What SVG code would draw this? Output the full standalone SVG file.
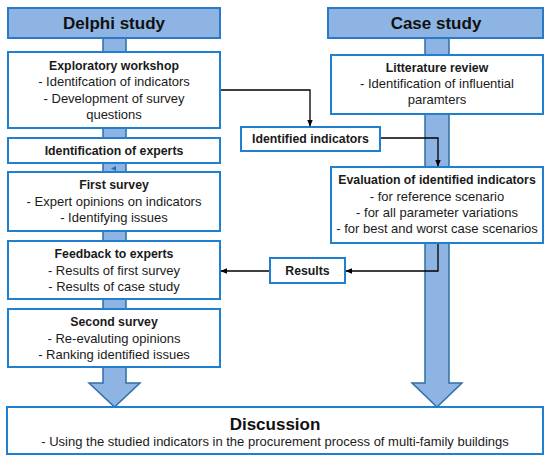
<svg xmlns="http://www.w3.org/2000/svg" width="550" height="463" viewBox="0 0 550 463">
<defs>
<style>
.box{fill:#fff;stroke:#1f7fd0;stroke-width:2}
.hdr{fill:#8db4e2;stroke:#2a7ac8;stroke-width:2}
.big{fill:#8db4e2;stroke:#2e6ea8;stroke-width:1.5}
.t{font-family:"Liberation Sans",Arial,sans-serif;font-size:13px;fill:#1a1a1a;text-anchor:middle}
.b{font-family:"Liberation Sans",Arial,sans-serif;font-size:12.3px;font-weight:bold;fill:#1a1a1a;text-anchor:middle}
.h{font-family:"Liberation Sans",Arial,sans-serif;font-size:17px;font-weight:bold;fill:#111;text-anchor:middle}
.con{fill:none;stroke:#000;stroke-width:1.3}
</style>
<marker id="arr" viewBox="0 0 10 10" refX="9" refY="5" markerWidth="7" markerHeight="7" orient="auto" markerUnits="userSpaceOnUse">
<path d="M0,1 L10,5 L0,9 z" fill="#000"/>
</marker>
</defs>

<g id="flow-arrows">
<polygon class="big" points="103,38 126,38 126,383 140,383 114.5,407 89,383 103,383"/>
<polygon class="big" points="425,38 449,38 449,383 462,383 437,407 412,383 425,383"/>
<polygon points="116,166 116,171 111,168.5" fill="#2e6ea8"/>
</g>

<g id="delphi-header">
<rect class="hdr" x="8" y="8" width="212" height="30"/>
<text class="h" x="114" y="29">Delphi study</text>
</g>
<g id="case-header">
<rect class="hdr" x="328" y="8" width="215" height="30"/>
<text class="h" x="436" y="29">Case study</text>
</g>

<g id="exploratory-workshop">
<rect class="box" x="8" y="52" width="212" height="76"/>
<text class="b" x="114" y="70">Exploratory workshop</text>
<text class="t" x="114" y="86">- Identifcation of indicators</text>
<text class="t" x="114" y="103">- Development of survey</text>
<text class="t" x="114" y="119">questions</text>
</g>
<g id="identification-of-experts">
<rect class="box" x="8" y="138" width="212" height="25"/>
<text class="b" x="114" y="154.5">Identification of experts</text>
</g>
<g id="first-survey">
<rect class="box" x="8" y="172" width="212" height="59"/>
<text class="b" x="114" y="189">First survey</text>
<text class="t" x="114" y="206">- Expert opinions on indicators</text>
<text class="t" x="114" y="222">- Identifying issues</text>
</g>
<g id="feedback-to-experts">
<rect class="box" x="8" y="241" width="212" height="58"/>
<text class="b" x="114" y="258">Feedback to experts</text>
<text class="t" x="114" y="275">- Results of first survey</text>
<text class="t" x="114" y="291">- Results of case study</text>
</g>
<g id="second-survey">
<rect class="box" x="8" y="309" width="212" height="58"/>
<text class="b" x="114" y="326">Second survey</text>
<text class="t" x="114" y="343">- Re-evaluting opinions</text>
<text class="t" x="114" y="359">- Ranking identified issues</text>
</g>

<g id="litterature-review">
<rect class="box" x="331" y="55" width="212" height="59"/>
<text class="b" x="437" y="72">Litterature review</text>
<text class="t" x="437" y="88">- Identification of influential</text>
<text class="t" x="437" y="104">paramters</text>
</g>
<g id="identified-indicators">
<rect class="box" x="241" y="127" width="139" height="24"/>
<text class="b" x="310.5" y="143">Identified indicators</text>
</g>
<g id="evaluation">
<rect class="box" x="331" y="167" width="212" height="76"/>
<text class="b" x="437" y="184">Evaluation of identified indicators</text>
<text class="t" x="437" y="201">- for reference scenario</text>
<text class="t" x="437" y="217">- for all parameter variations</text>
<text class="t" x="437" y="233">- for best and worst case scenarios</text>
</g>
<g id="results">
<rect class="box" x="270" y="258" width="75" height="25"/>
<text class="b" x="307.5" y="275">Results</text>
</g>

<g id="discussion">
<rect class="box" x="7" y="407" width="536" height="47"/>
<text class="h" x="275" y="430">Discussion</text>
<text class="t" x="275" y="446">- Using the studied indicators in the procurement process of multi-family buildings</text>
</g>

<g id="connectors">
<path class="con" d="M221,90 H310 V126" marker-end="url(#arr)"/>
<path class="con" d="M381,138 H438 V166" marker-end="url(#arr)"/>
<path class="con" d="M438,244 V271 H346" marker-end="url(#arr)"/>
<path class="con" d="M269,271 H221" marker-end="url(#arr)"/>
</g>
</svg>
